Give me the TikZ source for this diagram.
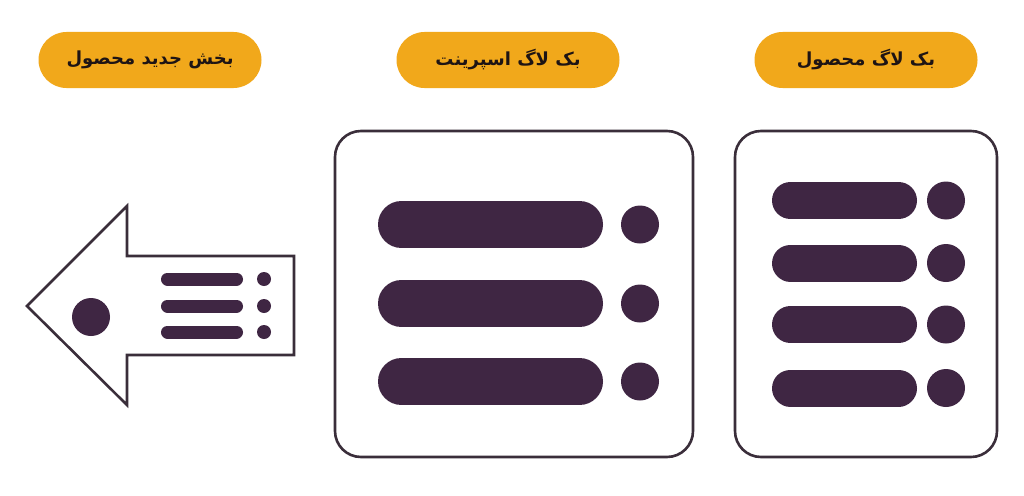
\documentclass[tikz,border=0pt]{standalone}
\usepackage{fontspec}
\newfontfamily\arabicfont[Script=Arabic]{DejaVu Sans}
\TeXXeTstate=1
\definecolor{pillc}{HTML}{F1A81B}
\definecolor{plum}{HTML}{3F2643}
\definecolor{frame}{HTML}{3A2E3A}
\definecolor{txt}{HTML}{1E1414}
\tikzset{
  pill/.style={fill=pillc, rounded corners=28pt, minimum width=223pt, minimum height=56pt, inner sep=0pt, text=txt, font=\arabicfont\bfseries\fontsize{18}{20}\selectfont},
  panel/.style={draw=frame, line width=2.6pt, rounded corners=26pt, fill=white},
  bar/.style={draw=plum, line cap=round},
  dot/.style={fill=plum},
}
\begin{document}
\begin{tikzpicture}[x=1pt,y=-1pt]
\useasboundingbox (0,0) rectangle (1024,495);
\fill[white] (0,0) rectangle (1024,495);
% pills
\node[pill] (p1) at (150,60) {\beginR بخش جدید محصول\endR};
\node[pill] (p2) at (508,60) {\beginR بک لاگ اسپرینت\endR};
\node[pill] (p3) at (866,60) {\beginR بک لاگ محصول\endR};
% middle panel
\draw[panel] (335,131) rectangle (693,457);
\foreach \y in {224.5,303.5,381.5}{
  \draw[bar, line width=47pt] (401.5,\y) -- (579.5,\y);
  \fill[dot] (640,\y) circle (19);
}
% right panel
\draw[panel] (735,131) rectangle (997,457);
\foreach \y in {200.5,263,324.5,388}{
  \draw[bar, line width=37pt] (790.5,\y) -- (898.5,\y);
  \fill[dot] (946,\y) circle (19);
}
% arrow
\draw[draw=frame, line width=2.6pt, line join=miter, fill=white]
  (294,256) -- (127,256) -- (127,206) -- (27,306) -- (127,405) -- (127,355) -- (294,355) -- cycle;
\foreach \y in {279,306,332}{
  \draw[bar, line width=13pt] (167.5,\y) -- (236.5,\y);
  \fill[dot] (264,\y) circle (7);
}
\fill[dot] (91,317) circle (19);
\end{tikzpicture}
\end{document}
